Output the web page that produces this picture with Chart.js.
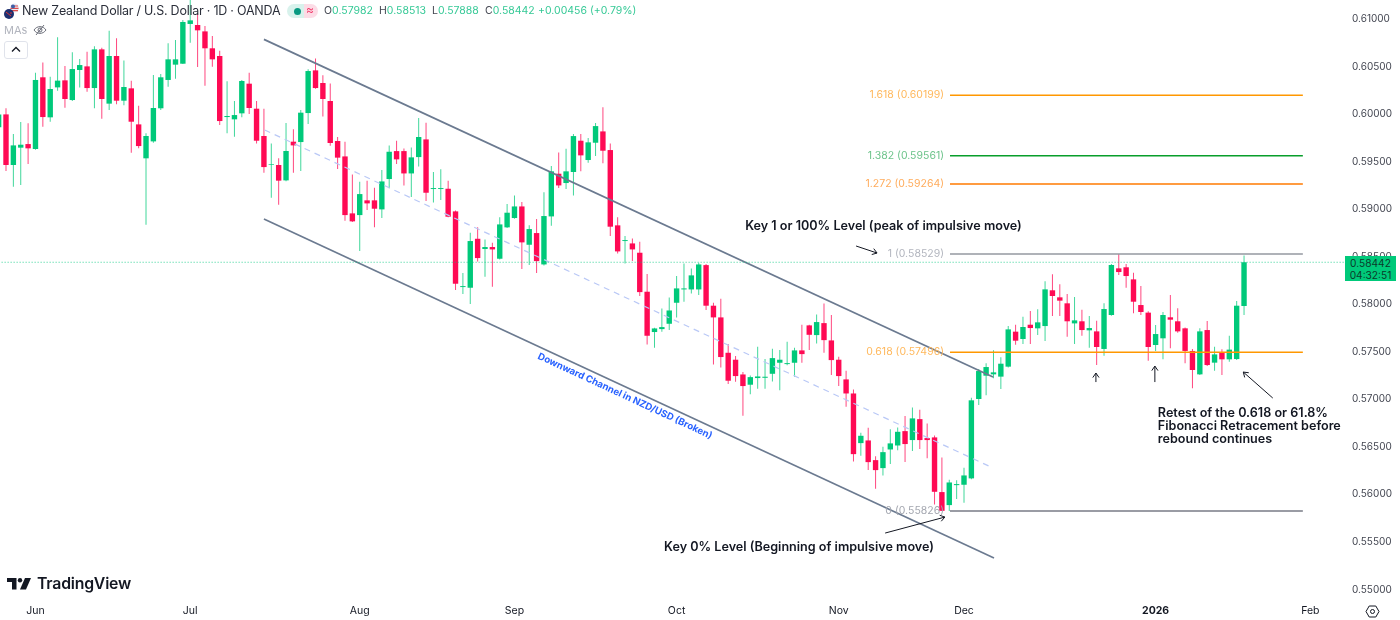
<!DOCTYPE html>
<html>
<head>
<meta charset="utf-8">
<title>NZD/USD 1D</title>
<script src="https://cdn.jsdelivr.net/npm/chart.js@4/dist/chart.umd.min.js"></script>
<style>
  html, body { margin: 0; background: #fff; }
  #wrap { position: relative; width: 1400px; height: 620px; overflow: hidden; font-family: Inter, "Noto Sans", sans-serif; }
  #wrap span, #wrap div.abs { position: absolute; white-space: nowrap; }
  #wrap svg { position: absolute; }
  canvas { position: absolute; left: 0; top: 0; }
  .title { left: 22px; top: 3px; font-size: 12.5px; letter-spacing: -0.23px; line-height: 16px; color: #2a2e39; }
  .pill { left: 287px; top: 4px; width: 31px; height: 14px; border-radius: 7px; overflow: hidden;
          background: linear-gradient(90deg, #d8f2ec 0 54%, #fcdce6 54% 100%); }
  .dot { left: 7px; top: 3.5px; width: 7px; height: 7px; border-radius: 50%; background: #089981; }
  .wave { left: 19px; top: -2px; font-size: 12px; line-height: 16px; color: #f23f6d; }
  .ohlc { top: 4px; font-size: 10.5px; line-height: 14px; color: #35c996; }
  .ohlc b { font-weight: 400; color: #434651; }
  .mas { left: 4px; top: 23px; font-size: 11px; line-height: 14px; color: #b2b5be; }
  .btn { left: 4px; top: 41px; width: 22px; height: 16px; border: 1px solid #e0e3eb; border-radius: 3px; }
  .logo { left: 37px; top: 574px; font-size: 15.8px; line-height: 20px; font-weight: 600; color: #131722; letter-spacing: -0.2px; }
  .tag { left: 1345px; top: 256px; width: 51px; height: 25px; background: #00c97a; color: #0b3b2a;
         font-size: 10.2px; line-height: 12px; text-align: center; padding-top: 1px; box-sizing: border-box; }
</style>
</head>
<body>
<div id="wrap">
  <canvas id="chart" width="1400" height="620"></canvas>

  <!-- legend strip, drawn over the plot like the original -->
  <svg style="left:3px;top:3px" width="18" height="20" viewBox="0 0 18 20">
    <circle cx="11.5" cy="5" r="4.6" fill="#e8ecf5"/>
    <path d="M8 3h7M7.5 5.4h8M8 7.6h7" stroke="#e04b4b" stroke-width="1.1"/>
    <circle cx="10" cy="3.6" r="2" fill="#3a5fa8"/>
    <circle cx="6" cy="11" r="5" fill="#1d2f6f"/>
    <path d="M3 9l5 4" stroke="#d33" stroke-width="1"/>
    <circle cx="8" cy="10" r=".8" fill="#e33"/>
  </svg>
  <span class="title">New Zealand Dollar / U.S. Dollar · 1D · OANDA</span>
  <div class="abs pill"><div class="abs dot"></div><span class="wave">≈</span></div>
  <span class="ohlc" style="left:324px"><b>O</b>0.57982</span>
  <span class="ohlc" style="left:379px"><b>H</b>0.58513</span>
  <span class="ohlc" style="left:432px"><b>L</b>0.57888</span>
  <span class="ohlc" style="left:485px"><b>C</b>0.58442</span>
  <span class="ohlc" style="left:538px">+0.00456 (+0.79%)</span>

  <span class="mas">MAs</span>
  <svg style="left:33px;top:23px" width="14" height="14" viewBox="0 0 14 14" fill="none" stroke="#6a6d78" stroke-width="1">
    <path d="M1 7c3-4.5 9-4.5 12 0c-3 4.5-9 4.5-12 0z"/><circle cx="7" cy="7" r="2"/><path d="M3 12L11 2"/>
  </svg>
  <div class="abs btn"></div>
  <svg style="left:11px;top:46px" width="10" height="7" viewBox="0 0 10 7" fill="none" stroke="#131722" stroke-width="1.3">
    <path d="M1 5.5l4-4l4 4"/>
  </svg>

  <svg style="left:7px;top:578px" width="24" height="12" viewBox="0 0 24 12" fill="#131722">
    <path d="M0 0h9.5v11.5H5V4H0z"/><circle cx="13" cy="2.2" r="2.2"/><path d="M18 0h6l-5 11.5h-6z"/>
  </svg>
  <span class="logo">TradingView</span>

  <svg style="left:1365px;top:604px" width="15" height="15" viewBox="0 0 15 15" fill="none" stroke="#131722" stroke-width="1">
    <path d="M4.2 2h6.6l3.2 5.5l-3.2 5.5H4.2L1 7.5z"/><circle cx="7.5" cy="7.5" r="2"/>
  </svg>

  <div class="abs tag">0.58442<br>04:32:51</div>
</div>

<script>
"use strict";

// ── Data: daily candles ────────────────────────────────────
const opens = [
  .59861,.59997,.59465,.59647,.59685,.59633,.60387,.59966,.60281,.60355,
  .60148,.60464,.60502,.60274,.60681,.60110,.60611,.60141,.60271,.59892,
  .59535,.59713,.60061,.60359,.60520,.60530,.60948,.60937,.60870,.60692,
  .60611,.59969,.59945,.60008,.60320,.60057,.59770,.59468,.59465,.59303,
  .59710,.59706,.60011,.60460,.60327,.60138,.59717,.59555,.58956,.58938,
  .59093,.59093,.58998,.59317,.59611,.59611,.59376,.59548,.59734,.59212,
  .59212,.59215,.58977,.58181,.58174,.58689,.58581,.58602,.58479,.58809,
  .58907,.59029,.58626,.58749,.58419,.58924,.59373,.59275,.59391,.59720,
  .59517,.59699,.59818,.59622,.58830,.58665,.58640,.58542,.58132,.57708,
  .57739,.57795,.58016,.58156,.58156,.58156,.58412,.57985,.57862,.57490,
  .57417,.57262,.57154,.57224,.57227,.57269,.57385,.57371,.57385,.57515,
  .57778,.57676,.57802,.57620,.57417,.57210,.57062,.56540,.56568,.56361,
  .56277,.56473,.56515,.56666,.56572,.56792,.56593,.56600,.56025,.55888,
  .56098,.56102,.56169,.57004,.57249,.57263,.57239,.57344,.57712,.57635,
  .57785,.57747,.57771,.58147,.58073,.58010,.57799,.57821,.57726,.57715,
  .57530,.57887,.58378,.58389,.58262,.57992,.57912,.57572,.57642,.57863,
  .57821,.57747,.57509,.57263,.57729,.57386,.57494,.57421,.57424,.57982,
];
const highs = [
  .60061,.60061,.59791,.59917,.59903,.60436,.60544,.60394,.60807,.60506,
  .60650,.60579,.60657,.60713,.60699,.60877,.60797,.60565,.60352,.60089,
  .59798,.60411,.60422,.60744,.60779,.60990,.61200,.61060,.60927,.60821,
  .60667,.60345,.60138,.60359,.60436,.60138,.60057,.59692,.59535,.59906,
  .59840,.60043,.60471,.60586,.60408,.60323,.59759,.59710,.59366,.59289,
  .59299,.59226,.59412,.59671,.59720,.59639,.59650,.59958,.59909,.59391,
  .59419,.59299,.58987,.58328,.58752,.58809,.58682,.58647,.58914,.59054,
  .59145,.59075,.58830,.58896,.59177,.59454,.59597,.59636,.59790,.59790,
  .59748,.59906,.60071,.59692,.58914,.58717,.58693,.58658,.58318,.57753,
  .57956,.58072,.58297,.58430,.58377,.58437,.58423,.58016,.58058,.57581,
  .57455,.57287,.57252,.57553,.57424,.57532,.57518,.57606,.57543,.57785,
  .57785,.57893,.58009,.57886,.57448,.57301,.57104,.56649,.56701,.56403,
  .56501,.56687,.56705,.56824,.56915,.56891,.56747,.56621,.56389,.56154,
  .56150,.56281,.57018,.57319,.57379,.57516,.57442,.57771,.57785,.57870,
  .57929,.57947,.58241,.58315,.58210,.58108,.58076,.57943,.57877,.57828,
  .58010,.58424,.58529,.58424,.58332,.58192,.57926,.57782,.57919,.58098,
  .57957,.57757,.57530,.57747,.57824,.57554,.57526,.57670,.58034,.58513,
];
const lows = [
  .59840,.59401,.59237,.59254,.59475,.59625,.59868,.59920,.60246,.60068,
  .60138,.60281,.60236,.60061,.59952,.60043,.60103,.60092,.59594,.59640,
  .58837,.59699,.60043,.60288,.60373,.60527,.60751,.60495,.60299,.60499,
  .59885,.59798,.59763,.59966,.60001,.59692,.59384,.59121,.59047,.59295,
  .59384,.59401,.59896,.60267,.59976,.59668,.59422,.58879,.58865,.58560,
  .58991,.58809,.58907,.59219,.59475,.59250,.59128,.59450,.59086,.59071,
  .59096,.58914,.58149,.58107,.58002,.58451,.58290,.58184,.58472,.58802,
  .58900,.58370,.58412,.58328,.58409,.58826,.59222,.59212,.59145,.59398,
  .59489,.59559,.59482,.58717,.58535,.58430,.58454,.58086,.57578,.57543,
  .57711,.57729,.57862,.58027,.58114,.58097,.57939,.57367,.57336,.57161,
  .57185,.56828,.57055,.57112,.57112,.57189,.57097,.57360,.57238,.57385,
  .57518,.57588,.57490,.57255,.57140,.56922,.56347,.56407,.56256,.56060,
  .56200,.56319,.56466,.56340,.56456,.56477,.56382,.55895,.55826,.55826,
  .55951,.55912,.56160,.56941,.57042,.57221,.57109,.57336,.57575,.57582,
  .57582,.57677,.57614,.57877,.57877,.57659,.57582,.57670,.57544,.57361,
  .57459,.57880,.58308,.58175,.57905,.57887,.57407,.57509,.57421,.57537,
  .57701,.57379,.57116,.57255,.57351,.57302,.57256,.57396,.57414,.57888,
];
const closes = [
  .59997,.59465,.59671,.59678,.59640,.60359,.59969,.60264,.60352,.60159,
  .60474,.60516,.60274,.60681,.60159,.60611,.60141,.60285,.59920,.59664,
  .59770,.60064,.60387,.60576,.60576,.60969,.60986,.60881,.60692,.60576,
  .59927,.59980,.59990,.60348,.60064,.59720,.59443,.59475,.59300,.59612,
  .59671,.60015,.60453,.60274,.60159,.59696,.59542,.58938,.58872,.59159,
  .59061,.59005,.59292,.59604,.59524,.59376,.59545,.59759,.59173,.59222,
  .59222,.58921,.58216,.58191,.58665,.58486,.58602,.58577,.58840,.58963,
  .59029,.58651,.58791,.58454,.58928,.59398,.59250,.59398,.59769,.59566,
  .59703,.59874,.59615,.58816,.58556,.58675,.58577,.58128,.57669,.57746,
  .57760,.57935,.58167,.58167,.58304,.58419,.57985,.57862,.57445,.57196,
  .57245,.57140,.57234,.57241,.57238,.57434,.57417,.57381,.57515,.57476,
  .57679,.57813,.57623,.57413,.57245,.57062,.56424,.56617,.56340,.56256,
  .56445,.56537,.56659,.56530,.56800,.56572,.56572,.56028,.55828,.56126,
  .56109,.56200,.56990,.57298,.57340,.57284,.57375,.57736,.57617,.57761,
  .57750,.57810,.58157,.58087,.58038,.57821,.57831,.57729,.57750,.57551,
  .57950,.58413,.58339,.58297,.58027,.57919,.57551,.57687,.57887,.57838,
  .57715,.57509,.57309,.57715,.57361,.57473,.57421,.57523,.57985,.58442,
];

const priceTicks = [.61,.605,.60,.595,.59,.585,.58,.575,.57,.565,.56,.555,.55];
const monthBars = [5, 26, 49, 70, 92, 114, 131, 157, 178];   // bar index of each month label
const monthLabels = ["Jun", "Jul", "Aug", "Sep", "Oct", "Nov", "Dec", "2026", "Feb"];

const lastPrice = 0.58442;

// Fibonacci levels drawn from the impulse low to the impulse high.
const fibRatios = ["1.618", "1.382", "1.272", "1", "0.618", "0"];
const fibPrices = [0.60199, 0.59561, 0.59264, 0.58529, 0.57496, 0.55826];
const fibColors = ["#ff9800", "#089e2b", "#ff7a00", "#9598a1", "#ff9800", "#787b86"];
const fibLabelColors = ["#ffb85c", "#6cc38a", "#ffac5c", "#b2b5be", "#ffb85c", "#a3a6af"];
const fibSpan = [129.1, 176.98];

// Channel drawings: [bar, price] end points.
const channelUpper = [[36.0, 0.60786], [134.94, 0.57235]];
const channelLower = [[36.0, 0.58897], [135.07, 0.55331]];
const channelMiddle = [[36.1, 0.59833], [134.94, 0.56278]];

// Arrows: [fromBar, fromPrice, toBar, toPrice].
const arrows = [
  [116.35, 0.58613, 119.2, 0.58539],
  [120.3, 0.55594, 128.4, 0.55762],
  [148.9, 0.57182, 148.9, 0.57277],
  [156.9, 0.57182, 156.9, 0.5735],
  [172.9, 0.57014, 168.9, 0.57287],
];

// Notes: text, bar of the left edge, price of the text middle.
const notes = [
  ["Key 1 or 100% Level (peak of impulsive move)", 101.3, 0.58825],
  ["Key 0% Level (Beginning of impulsive move)", 90.3, 0.55450],
  ["Retest of the 0.618 or 61.8%", 157.3, 0.56856],
  ["Fibonacci Retracement before", 157.3, 0.56719],
  ["rebound continues", 157.3, 0.56583],
];
const channelNote = ["Downward Channel in NZD/USD (Broken)", 85, 0.57035];

// ── Colors ─────────────────────────────────────────────────
const UP = "#00c97a";
const DOWN = "#ff0a54";
const UP_WICK = "rgba(0,201,122,.75)";
const DOWN_WICK = "rgba(255,10,84,.75)";
const CHANNEL = "#6b7a90";

// ── Datasets ───────────────────────────────────────────────
const isUp = (i) => closes[i] >= opens[i];

function toLine(points, color, width, dash) {
  return {
    type: "line",
    data: points.map(([x, y]) => ({ x, y })),
    borderColor: color,
    borderWidth: width,
    borderDash: dash || [],
    pointRadius: 0,
    order: 1,
  };
}

const barOptions = { type: "bar", grouped: false, inflateAmount: 0, borderWidth: 0 };

const datasets = [
  {
    ...barOptions,
    data: highs.map((h, i) => ({ x: i, y: [lows[i], h] })),
    backgroundColor: highs.map((_, i) => (isUp(i) ? UP_WICK : DOWN_WICK)),
    barThickness: 1,
    order: 4,
  },
  {
    ...barOptions,
    data: opens.map((o, i) => ({ x: i, y: [Math.min(o, closes[i]), Math.max(o, closes[i])] })),
    backgroundColor: opens.map((_, i) => (isUp(i) ? UP : DOWN)),
    barThickness: 5.4,
    order: 3,
  },
  toLine([[0, lastPrice], [190, lastPrice]], "rgba(0,200,125,.8)", 1, [1, 2]),
  toLine(channelUpper, CHANNEL, 1.7),
  toLine(channelLower, CHANNEL, 1.7),
  toLine(channelMiddle, "#b9c8f6", 1.2, [6, 5]),
];
fibPrices.forEach((p, i) => {
  datasets.push(toLine(fibSpan.map((x) => [x, p]), fibColors[i], 1.5));
});

// ── Plugin: text notes and arrows, placed through the scales ─
const notesPlugin = {
  id: "notes",
  afterDatasetsDraw(chart) {
    const { ctx, scales } = chart;
    const X = (v) => scales.x.getPixelForValue(v);
    const Y = (v) => scales.y.getPixelForValue(v);
    ctx.save();
    ctx.textBaseline = "middle";

    // Fib labels sit just left of each line.
    ctx.font = "10.5px Inter";
    ctx.textAlign = "right";
    fibPrices.forEach((p, i) => {
      ctx.fillStyle = fibLabelColors[i];
      ctx.fillText(`${fibRatios[i]} (${p.toFixed(5)})`, X(fibSpan[0]) - 6, Y(p));
    });

    ctx.textAlign = "left";
    ctx.font = "600 12.6px Inter";
    ctx.fillStyle = "#131722";
    for (const [text, x, y] of notes) ctx.fillText(text, X(x), Y(y));

    // Channel caption follows the slope of the channel.
    const slope = Math.atan2(
      Y(channelLower[1][1]) - Y(channelLower[0][1]),
      X(channelLower[1][0]) - X(channelLower[0][0])
    );
    ctx.save();
    ctx.translate(X(channelNote[1]), Y(channelNote[2]));
    ctx.rotate(slope);
    ctx.textAlign = "center";
    ctx.font = "700 9.6px Inter";
    ctx.fillStyle = "#2962ff";
    ctx.fillText(channelNote[0], 0, 0);
    ctx.restore();

    ctx.strokeStyle = "#131722";
    ctx.lineWidth = 1;
    for (const [x1, y1, x2, y2] of arrows) {
      const ax = X(x1), ay = Y(y1), bx = X(x2), by = Y(y2);
      const a = Math.atan2(by - ay, bx - ax);
      ctx.beginPath();
      ctx.moveTo(ax, ay);
      ctx.lineTo(bx, by);
      ctx.moveTo(bx - 5.5 * Math.cos(a - 0.6), by - 5.5 * Math.sin(a - 0.6));
      ctx.lineTo(bx, by);
      ctx.lineTo(bx - 5.5 * Math.cos(a + 0.6), by - 5.5 * Math.sin(a + 0.6));
      ctx.stroke();
    }
    ctx.restore();
  },
};

// ── Chart ──────────────────────────────────────────────────
// Scale padding is zeroed so the plot fills the canvas to its top edge.
const noPadding = (scale) => {
  scale.paddingTop = 0;
  scale.paddingBottom = 0;
  scale.paddingLeft = 0;
  scale.paddingRight = 0;
};

new Chart(document.getElementById("chart"), {
  type: "bar",
  data: { datasets },
  plugins: [notesPlugin],
  options: {
    responsive: false,
    animation: false,
    layout: { padding: 0 },
    plugins: { legend: { display: false }, tooltip: { enabled: false } },
    scales: {
      x: {
        type: "linear",
        offset: false,
        min: 0.186,
        max: 182.7,
        grid: { display: false, drawTicks: false },
        border: { display: false },
        afterBuildTicks: (scale) => { scale.ticks = monthBars.map((value) => ({ value })); },
        afterFit: (scale) => { scale.height = 20; noPadding(scale); },
        ticks: {
          autoSkip: false,
          maxRotation: 0,
          padding: 5,
          color: "#131722",
          font: (c) => ({
            family: "Inter",
            size: 10.5,
            weight: c.tick && c.tick.value === monthBars[7] ? "700" : "400",
          }),
          callback: (v) => monthLabels[monthBars.indexOf(v)],
        },
      },
      y: {
        position: "right",
        min: 0.5489,
        max: 0.612,
        grid: { display: false, drawTicks: false },
        border: { display: false },
        afterBuildTicks: (scale) => { scale.ticks = priceTicks.map((value) => ({ value })); },
        afterFit: (scale) => { scale.width = 55; noPadding(scale); },
        ticks: {
          padding: 7,
          color: "#434651",
          font: { family: "Inter", size: 10 },
          callback: (v) => v.toFixed(5),
        },
      },
    },
  },
});
</script>
</body>
</html>
